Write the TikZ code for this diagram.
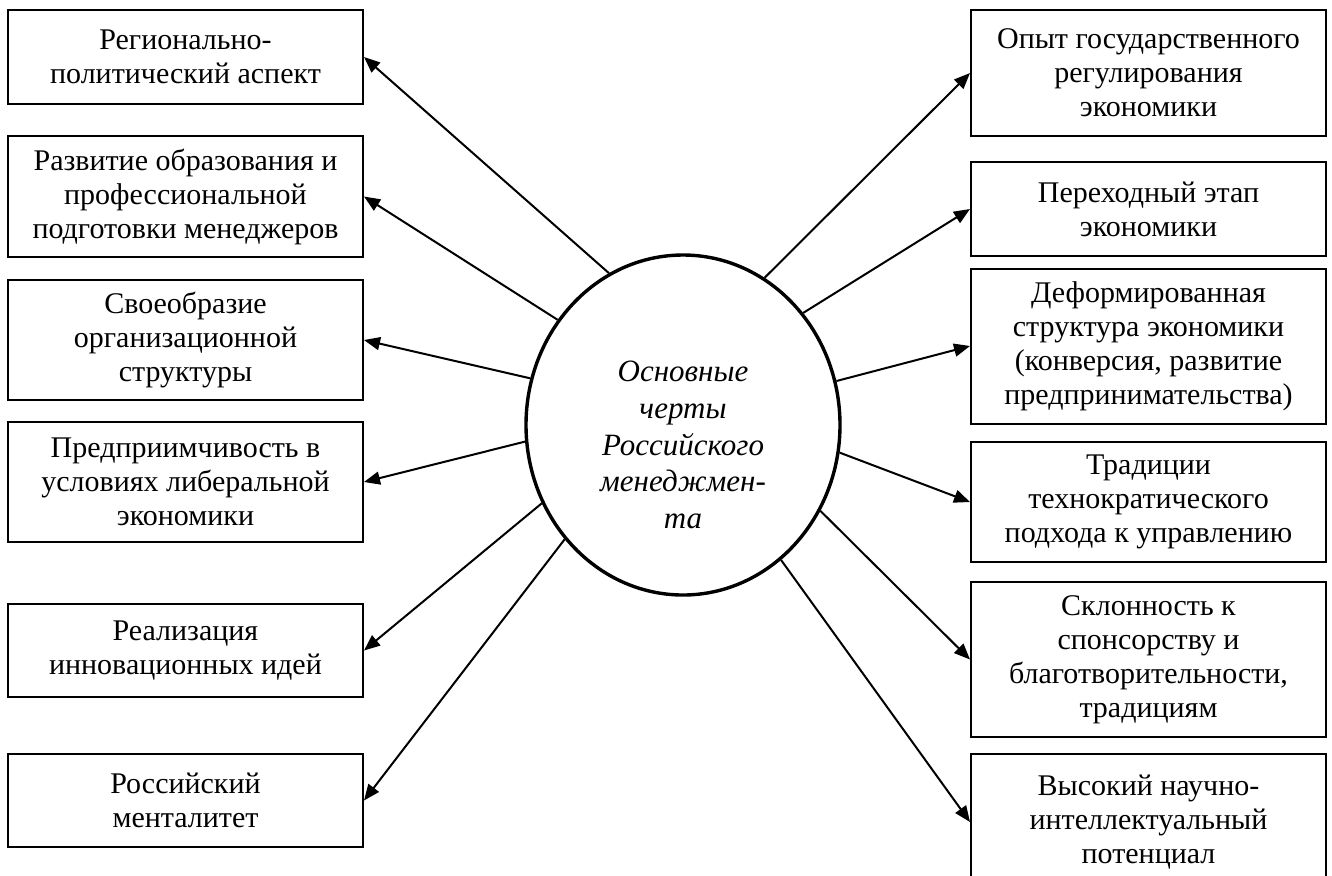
\documentclass[tikz,border=0pt]{standalone}
\usepackage{fontspec}
\setmainfont{Liberation Serif}
\usetikzlibrary{arrows.meta,shapes.geometric}

\begin{document}
\begin{tikzpicture}[x=0.5pt,y=-0.5pt,
    box/.style={draw,line width=1pt,minimum width=177.5pt,align=center,inner sep=2pt,
        font=\fontsize{15}{17}\selectfont},
    core/.style={draw,ellipse,line width=1.7pt,minimum width=157pt,minimum height=170pt,inner sep=0pt},
    coretext/.style={align=center,inner sep=0pt,font=\fontsize{15.5}{18.4}\selectfont\itshape},
    link/.style={line width=1pt,-{Triangle[length=8pt,width=6.5pt]}}]
            \useasboundingbox (0,0) rectangle (1332,875);
            % centre
            \node[core] (core) at (683,425) {};
            \node[coretext] (coretitle) at (683,445) {Основные\\черты\\Российского\\менеджмен-\\та};
            % left column
            \node[box,minimum height=47pt] (l1) at (185.5,57) {Регионально-\\политический аспект};
            \node[box,minimum height=60.5pt] (l2) at (185.5,196.5) {Развитие образования и\\профессиональной\\подготовки менеджеров};
            \node[box,minimum height=60pt] (l3) at (185.5,340) {Своеобразие\\организационной\\структуры};
            \node[box,minimum height=60pt] (l4) at (185.5,482) {Предприимчивость в\\условиях либеральной\\экономики};
            \node[box,minimum height=46.5pt] (l5) at (185.5,650.5) {Реализация\\инновационных идей};
            \node[box,minimum height=46.5pt] (l6) at (185.5,800.5) {Российский\\менталитет};
            % right column
            \node[box,minimum height=63pt] (r1) at (1148.5,73) {Опыт государственного\\регулирования\\экономики};
            \node[box,minimum height=47pt] (r2) at (1148.5,209) {Переходный этап\\экономики};
            \node[box,minimum height=77.5pt] (r3) at (1148.5,346) {Деформированная\\структура экономики\\(конверсия, развитие\\предпринимательства)};
            \node[box,minimum height=60pt] (r4) at (1148.5,502) {Традиции\\технократического\\подхода к управлению};
            \node[box,minimum height=77.5pt] (r5) at (1148.5,659.5) {Склонность к\\спонсорству и\\благотворительности,\\традициям};
            \node[box,minimum height=68pt] (r6) at (1148.5,822) {Высокий научно-\\интеллектуальный\\потенциал};
            % arrows
            \foreach \a/\n in {116.7/l1,140.6/l2,163.2/l3,186.6/l4,209/l5,224.8/l6}
                \draw[link] (core.\a) -- (\n.east);
            \foreach \a/\n in {61.4/r1,43/r2,16.7/r3,-10/r4,-32.9/r5,-54.4/r6}
                \draw[link] (core.\a) -- (\n.west);
        \end{tikzpicture}
\end{document}
